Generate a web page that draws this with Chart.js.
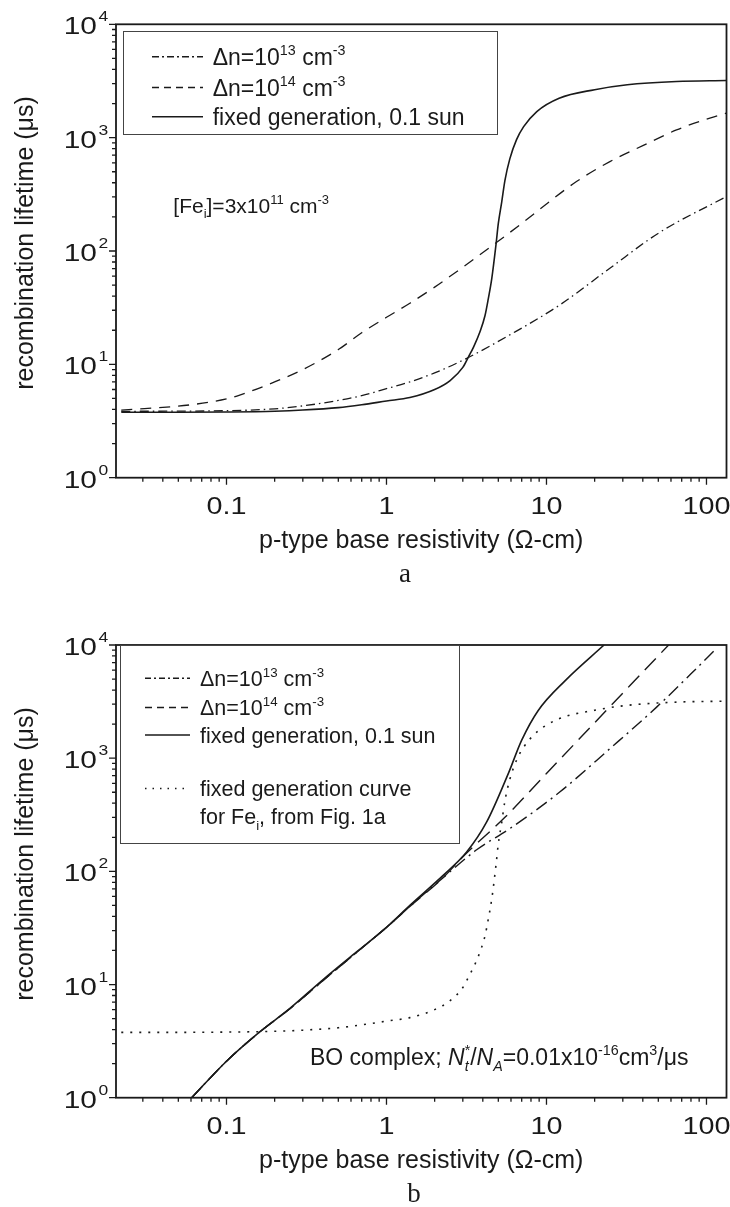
<!DOCTYPE html>
<html><head><meta charset="utf-8">
<script src="https://cdn.jsdelivr.net/npm/chart.js@4/dist/chart.umd.min.js"></script>
<style>
html,body{margin:0;padding:0;background:#fff;width:730px;height:1207px;overflow:hidden}
canvas{position:absolute;left:0}
</style></head><body>
<canvas id="c1" width="730" height="600" style="top:0px"></canvas>
<canvas id="c2" width="730" height="607" style="top:600px"></canvas>
<script>
// ---------- data ----------
// Fig. a: interstitial iron, [Fe_i] = 3e11 cm^-3
const feGenRho  = [0.022,0.05,0.1,0.2,0.3,0.5,0.7,1.0,1.4,2.0,2.5,3.0,3.25,3.5,3.84,4.13,4.33,4.55,4.84,5.0,5.25,5.5,5.9,6.5,7.2,8.7,12,20,32,65,133];
const feGenTau  = [3.78,3.78,3.8,3.86,3.95,4.15,4.4,4.75,5.1,6.0,7.2,9.4,11.6,14.2,19.4,27,38,57,115,175,270,420,650,960,1250,1700,2230,2650,2930,3130,3190];
const feDn13Rho = [0.022,0.1,0.2,0.3,0.5,0.7,1.0,1.4,2.0,3.25,5.9,12.1,24.9,51,133];
const feDn13Tau = [3.85,3.9,4.05,4.3,4.8,5.3,6.1,7.0,8.4,11.5,18.2,33.4,70.5,146,302];
const feDn14Rho = [0.022,0.06,0.1,0.121,0.2,0.3,0.5,0.7,1.0,1.4,2.0,3.0,4.84,7,10,15.4,24.9,40,65,105,133];
const feDn14Tau = [3.95,4.4,4.95,5.35,7.0,9.0,13.5,19,26,34.6,48,72,118,175,260,410,615,850,1170,1490,1645];
// Fig. b: boron-oxygen complex
const boGenRho  = [0.0606,0.1,0.162,0.249,0.4,0.65,1.0,1.4,2.26,3.17,4.23,5.77,6.99,8.88,13.1,22.9];
const boGenTau  = [1,2.1,3.83,6.15,11,19.4,32,50,92,148,273,730,1435,2640,4850,10000];
const boDn14Rho = [0.0606,0.1,0.162,0.249,0.4,0.65,1.0,1.4,2.26,3.09,5.5,10,20,30,40,58];
const boDn14Tau = [1,2.1,3.83,6.1,10.8,19.2,32,49,88,140,300,733,2057,3760,5770,10000];
const boDn13Rho = [0.0606,0.1,0.162,0.249,0.4,0.65,1.0,1.4,2.26,3.66,5.91,12.1,24.9,48.8,80,116];
const boDn13Tau = [1,2.1,3.83,6.1,10.8,19.2,32,49,88,155,239,502,1213,2825,5560,9400];
// axes
const xMin = 0.02039, xMax = 133.4;
const yMin = 1, yMax = 10000;
const xTickValues = [0.1, 1, 10, 100];
const xTickLabels = ['0.1', '1', '10', '100'];
const yTickExps = [0, 1, 2, 3, 4];
const xTitle = 'p-type base resistivity (\u03A9-cm)';
const yTitle = 'recombination lifetime (\u03BCs)';

// ---------- helpers ----------
const FONT = '"Liberation Sans", Arial, Helvetica, sans-serif';
const SERIF = '"Liberation Serif", "Times New Roman", serif';
const INK = '#1a1a1a';
const zip = (xs, ys) => xs.map((x, i) => ({x: x, y: ys[i]}));

function rich(ctx, x, baseline, segs, size) {
  let cx = x, hold = 0;
  ctx.fillStyle = INK;
  for (const s of segs) {
    const small = s.sup || s.sub;
    const fs = small ? size * 0.62 : size;
    ctx.font = (s.it ? 'italic ' : '') + fs.toFixed(1) + 'px ' + FONT;
    const dy = s.sup ? -size * 0.42 : (s.sub ? size * 0.26 : 0);
    ctx.textAlign = 'left'; ctx.textBaseline = 'alphabetic';
    ctx.fillText(s.t, cx, baseline + dy);
    const w = ctx.measureText(s.t).width;
    if (s.hold) { hold = w; continue; }
    cx += Math.max(w, hold); hold = 0;
  }
}
function sample(ctx, x1, x2, y, dash, w) {
  ctx.save(); ctx.setLineDash(dash); ctx.lineWidth = w; ctx.strokeStyle = INK;
  ctx.beginPath(); ctx.moveTo(x1, y); ctx.lineTo(x2, y); ctx.stroke(); ctx.restore();
}
function stretchText(ctx, txt, x, y, size, sx, align) {
  ctx.save(); ctx.translate(x, y); ctx.scale(sx, 1);
  ctx.font = size + 'px ' + FONT; ctx.textAlign = align; ctx.textBaseline = 'alphabetic';
  ctx.fillStyle = INK; ctx.fillText(txt, 0, 0); ctx.restore();
}

function decorPlugin(cfg) {
  return {
    id: 'decor',
    beforeDraw(chart) {
      const c = chart.ctx; c.save(); c.fillStyle = '#fff';
      c.fillRect(0, 0, chart.width, chart.height); c.restore();
    },
    afterDatasetsDraw(chart) {
      const ctx = chart.ctx, a = chart.chartArea, sx = chart.scales.x, sy = chart.scales.y;
      ctx.save();
      // frame
      ctx.strokeStyle = INK; ctx.lineWidth = 1.8; ctx.setLineDash([]);
      ctx.strokeRect(a.left, a.top, a.right - a.left, a.bottom - a.top);
      // ticks
      ctx.lineWidth = 1.3;
      ctx.beginPath();
      for (let e = -2; e <= 2; e++) for (let k = 1; k <= 9; k++) {
        const v = k * Math.pow(10, e);
        if (v < xMin * 0.999 || v > xMax * 1.001) continue;
        const px = sx.getPixelForValue(v), len = k === 1 ? 7 : 4;
        ctx.moveTo(px, a.bottom); ctx.lineTo(px, a.bottom + len);
      }
      for (let e = 0; e <= 4; e++) for (let k = 1; k <= 9; k++) {
        const v = k * Math.pow(10, e);
        if (v < yMin * 0.999 || v > yMax * 1.001) continue;
        const py = sy.getPixelForValue(v), len = k === 1 ? 7 : 4;
        ctx.moveTo(a.left, py); ctx.lineTo(a.left - len, py);
      }
      ctx.stroke();
      // x tick labels
      xTickValues.forEach((v, i) => {
        stretchText(ctx, xTickLabels[i], sx.getPixelForValue(v), a.bottom + 36, 23, 1.25, 'center');
      });
      // y tick labels 10^n
      yTickExps.forEach(e => {
        const py = sy.getPixelForValue(Math.pow(10, e));
        stretchText(ctx, '10', 97, py + 10, 23, 1.3, 'right');
        stretchText(ctx, String(e), 98.5, py - 3, 14, 1.25, 'left');
      });
      // axis titles
      ctx.fillStyle = INK;
      ctx.font = '25px ' + FONT; ctx.textAlign = 'center'; ctx.textBaseline = 'alphabetic';
      ctx.fillText(xTitle, (a.left + a.right) / 2, a.bottom + 70);
      ctx.save(); ctx.translate(33, cfg.yTitleCenter); ctx.rotate(-Math.PI / 2);
      ctx.fillText(yTitle, 0, 0); ctx.restore();
      // panel letter
      ctx.font = '27px ' + SERIF; ctx.textAlign = 'center';
      ctx.fillText(cfg.letter, cfg.letterX, a.bottom + 104);
      // legend box
      const b = cfg.box;
      ctx.fillStyle = '#fff'; ctx.fillRect(b[0], b[1], b[2] - b[0], b[3] - b[1]);
      ctx.strokeStyle = '#444'; ctx.lineWidth = 1; ctx.setLineDash([]);
      ctx.strokeRect(b[0] + 0.5, b[1] + 0.5, b[2] - b[0], b[3] - b[1]);
      cfg.rows.forEach(r => {
        if (r.dash) sample(ctx, cfg.sx1, cfg.sx2, r.y, r.dash, 1.4);
        rich(ctx, cfg.textX, r.y + 0.36 * cfg.fs, r.segs, cfg.fs);
      });
      // annotation
      rich(ctx, cfg.note.x, cfg.note.baseline, cfg.note.segs, cfg.note.fs);
      ctx.restore();
    }
  };
}

function makeChart(id, datasets, padding, cfg) {
  return new Chart(document.getElementById(id), {
    type: 'scatter',
    data: { datasets: datasets.map(d => Object.assign({
      showLine: true, fill: false, pointRadius: 0, pointHoverRadius: 0,
      borderColor: INK, backgroundColor: INK, cubicInterpolationMode: 'monotone'
    }, d)) },
    options: {
      responsive: false, animation: false, devicePixelRatio: 1,
      layout: { padding: padding },
      plugins: { legend: { display: false }, tooltip: { enabled: false }, title: { display: false } },
      events: [],
      scales: {
        x: { type: 'logarithmic', min: xMin, max: xMax, display: false },
        y: { type: 'logarithmic', min: yMin, max: yMax, display: false }
      }
    },
    plugins: [decorPlugin(cfg)]
  });
}

const dn13 = [{t:'\u0394n=10'},{t:'13',sup:true},{t:' cm'},{t:'-3',sup:true}];
const dn14 = [{t:'\u0394n=10'},{t:'14',sup:true},{t:' cm'},{t:'-3',sup:true}];

makeChart('c1', [
  { label: 'dn13', data: zip(feDn13Rho, feDn13Tau), borderDash: [9,4,1.5,4], borderWidth: 1.3 },
  { label: 'dn14', data: zip(feDn14Rho, feDn14Tau), borderDash: [11,8], borderWidth: 1.3 },
  { label: 'gen',  data: zip(feGenRho, feGenTau), borderWidth: 1.6 }
], { left: 116, top: 24.3, right: 3.5, bottom: 122.3 }, {
  letter: 'a', letterX: 405, yTitleCenter: 243,
  box: [123, 31, 497, 134],
  sx1: 152, sx2: 203, textX: 212.7, fs: 23,
  rows: [
    { y: 56.7, dash: [7,3,2,3], segs: dn13 },
    { y: 87.5, dash: [7,5], segs: dn14 },
    { y: 116.7, dash: [], segs: [{t:'fixed generation, 0.1 sun'}] }
  ],
  note: { x: 173.3, baseline: 212.5, fs: 21,
    segs: [{t:'[Fe'},{t:'i',sub:true},{t:']=3x10'},{t:'11',sup:true},{t:' cm'},{t:'-3',sup:true}] }
});

makeChart('c2', [
  { label: 'feGen', data: zip(feGenRho, feGenTau), borderDash: [2,7], borderWidth: 1.6 },
  { label: 'dn13', data: zip(boDn13Rho, boDn13Tau), borderDash: [13,5,2,5], borderWidth: 1.4 },
  { label: 'dn14', data: zip(boDn14Rho, boDn14Tau), borderDash: [16,8], borderWidth: 1.4 },
  { label: 'gen',  data: zip(boGenRho, boGenTau), borderWidth: 1.6 }
], { left: 116, top: 45, right: 3.5, bottom: 109.3 }, {
  letter: 'b', letterX: 414, yTitleCenter: 254,
  box: [120, 45, 459, 243],
  sx1: 145, sx2: 190, textX: 200, fs: 21.5,
  rows: [
    { y: 78.3, dash: [6,3,2,3], segs: dn13 },
    { y: 107.5, dash: [7,5], segs: dn14 },
    { y: 135, dash: [], segs: [{t:'fixed generation, 0.1 sun'}] },
    { y: 188.5, dash: [1.5,6], segs: [{t:'fixed generation curve'}] },
    { y: 216.7, dash: null, segs: [{t:'for Fe'},{t:'i',sub:true},{t:', from Fig. 1a'}] }
  ],
  note: { x: 310, baseline: 465, fs: 23,
    segs: [{t:'BO complex; '},{t:'N',it:true},{t:'t',it:true,sub:true,hold:true},{t:'*',sup:true},
           {t:'/'},{t:'N',it:true},{t:'A',it:true,sub:true},{t:'=0.01x10'},{t:'-16',sup:true},
           {t:'cm'},{t:'3',sup:true},{t:'/\u03BCs'}] }
});
</script>
</body></html>
